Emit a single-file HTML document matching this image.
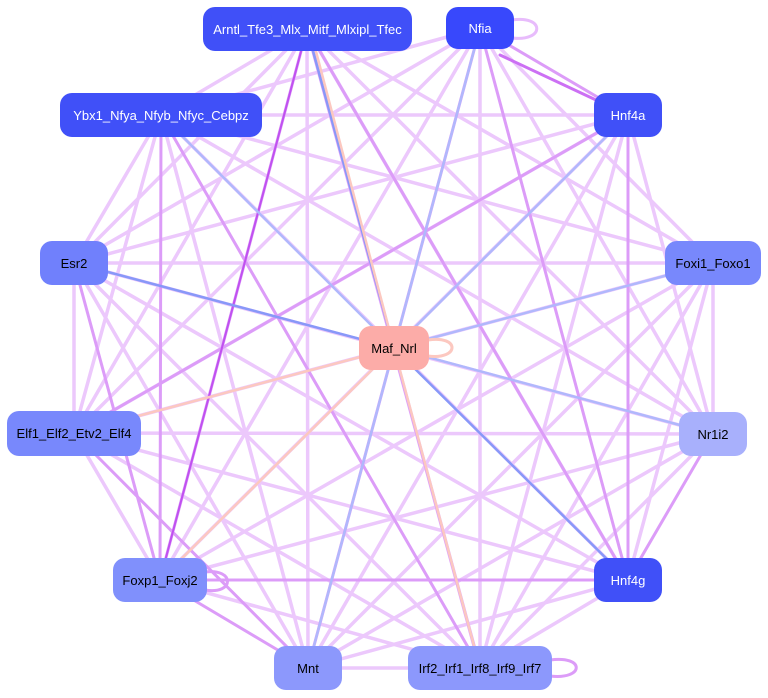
<!DOCTYPE html>
<html><head><style>
body{margin:0;background:#fff;width:768px;height:698px;overflow:hidden;font-family:"Liberation Sans",sans-serif}
.n{position:absolute;border-radius:12px;display:flex;align-items:center;justify-content:center;font-size:13px;color:#fff}
svg{position:absolute;left:0;top:0}
</style></head><body>
<svg width="768" height="698" stroke-linecap="round">
<g stroke="#ecc8fc" stroke-width="3.5" fill="none">
<line x1="307" y1="29" x2="161" y2="115"/><line x1="307" y1="29" x2="74" y2="263"/><line x1="307" y1="29" x2="713" y2="263"/>
<line x1="307" y1="29" x2="74" y2="433"/><line x1="307" y1="29" x2="713" y2="434"/><line x1="307" y1="29" x2="628" y2="580"/>
<line x1="307" y1="29" x2="308" y2="668"/><line x1="480" y1="28" x2="161" y2="115"/><line x1="480" y1="28" x2="74" y2="263"/>
<line x1="480" y1="28" x2="74" y2="433"/><line x1="480" y1="28" x2="160" y2="580"/><line x1="480" y1="28" x2="713" y2="434"/>
<line x1="480" y1="28" x2="713" y2="263"/><line x1="480" y1="28" x2="480" y2="668"/><line x1="161" y1="115" x2="628" y2="115"/>
<line x1="161" y1="115" x2="713" y2="263"/><line x1="161" y1="115" x2="74" y2="263"/><line x1="161" y1="115" x2="74" y2="433"/>
<line x1="161" y1="115" x2="308" y2="668"/><line x1="161" y1="115" x2="628" y2="580"/><line x1="161" y1="115" x2="713" y2="434"/>
<line x1="628" y1="115" x2="74" y2="263"/><line x1="628" y1="115" x2="74" y2="433"/><line x1="628" y1="115" x2="160" y2="580"/>
<line x1="628" y1="115" x2="308" y2="668"/><line x1="628" y1="115" x2="480" y2="668"/><line x1="628" y1="115" x2="713" y2="434"/>
<line x1="74" y1="263" x2="713" y2="263"/><line x1="74" y1="263" x2="74" y2="433"/><line x1="74" y1="263" x2="713" y2="434"/>
<line x1="74" y1="263" x2="480" y2="668"/><line x1="74" y1="263" x2="308" y2="668"/><line x1="74" y1="263" x2="628" y2="580"/>
<line x1="713" y1="263" x2="74" y2="433"/><line x1="713" y1="263" x2="160" y2="580"/><line x1="713" y1="263" x2="308" y2="668"/>
<line x1="713" y1="263" x2="480" y2="668"/><line x1="713" y1="263" x2="713" y2="434"/><line x1="713" y1="263" x2="628" y2="580"/>
<line x1="74" y1="433" x2="713" y2="434"/><line x1="74" y1="433" x2="160" y2="580"/><line x1="74" y1="433" x2="628" y2="580"/>
<line x1="74" y1="433" x2="480" y2="668"/><line x1="713" y1="434" x2="160" y2="580"/><line x1="713" y1="434" x2="308" y2="668"/>
<line x1="713" y1="434" x2="480" y2="668"/><line x1="160" y1="580" x2="480" y2="668"/><line x1="628" y1="580" x2="308" y2="668"/>
<line x1="628" y1="580" x2="480" y2="668"/><line x1="308" y1="668" x2="480" y2="668"/><line x1="307" y1="29" x2="480" y2="668"/>
</g>
<g stroke="#dc9cf8" stroke-width="3">
<line x1="307" y1="29" x2="160" y2="580"/><line x1="307" y1="29" x2="480" y2="668"/><line x1="307" y1="29" x2="628" y2="580"/>
<line x1="480" y1="28" x2="628" y2="115"/><line x1="480" y1="28" x2="628" y2="580"/><line x1="480" y1="28" x2="308" y2="668"/>
<line x1="161" y1="115" x2="160" y2="580"/><line x1="161" y1="115" x2="480" y2="668"/><line x1="628" y1="115" x2="628" y2="580"/>
<line x1="74" y1="263" x2="160" y2="580"/><line x1="713" y1="434" x2="628" y2="580"/><line x1="160" y1="580" x2="628" y2="580"/>
<line x1="160" y1="580" x2="308" y2="668"/><line x1="74" y1="433" x2="308" y2="668"/><line x1="628" y1="580" x2="160" y2="580"/>
<line x1="74" y1="433" x2="628" y2="115"/>
</g>
<line x1="307" y1="29" x2="160" y2="580" stroke="#c050f0" stroke-width="2"/>
<line x1="628" y1="115" x2="500" y2="55" stroke="#cc70f4" stroke-width="3"/>
<g stroke="#8898f8" stroke-width="2.5"><line x1="74" y1="263" x2="394" y2="348"/><line x1="628" y1="580" x2="394" y2="348"/><line x1="307" y1="29" x2="394" y2="348"/></g>
<g stroke="#b0b8fc" stroke-width="2.5"><line x1="480" y1="28" x2="394" y2="348"/><line x1="713" y1="434" x2="394" y2="348"/><line x1="308" y1="668" x2="394" y2="348"/><line x1="713" y1="263" x2="394" y2="348"/><line x1="628" y1="115" x2="394" y2="348"/><line x1="161" y1="115" x2="394" y2="348"/></g>
<g stroke="#fcc8c0" stroke-width="2.5"><line x1="394" y1="348" x2="74" y2="433"/><line x1="394" y1="348" x2="160" y2="580"/><line x1="394" y1="348" x2="480" y2="668"/><line x1="394" y1="348" x2="313" y2="40"/></g>
<path d="M512 20 C545 15 545 42 512 38" stroke="#e8bcfc" stroke-width="3" fill="none"/>
<path d="M550 660 C585 655 585 680 550 676" stroke="#dc9cf8" stroke-width="3" fill="none"/>
<path d="M205 572 C235 568 235 595 205 590" stroke="#dc9cf8" stroke-width="3" fill="none"/>
<path d="M428 340 C460 335 460 360 428 356" stroke="#fcc8c0" stroke-width="3" fill="none"/>
</svg>
<div class="n" style="left:203px;top:7px;width:209px;height:44px;background:#4050f8">Arntl_Tfe3_Mlx_Mitf_Mlxipl_Tfec</div>
<div class="n" style="left:446px;top:7px;width:68px;height:42px;background:#3848fc">Nfia</div>
<div class="n" style="left:60px;top:93px;width:202px;height:44px;background:#4050f8">Ybx1_Nfya_Nfyb_Nfyc_Cebpz</div>
<div class="n" style="left:594px;top:93px;width:68px;height:44px;background:#4050f8">Hnf4a</div>
<div class="n" style="left:40px;top:241px;width:68px;height:44px;background:#7080fc;color:#000">Esr2</div>
<div class="n" style="left:665px;top:241px;width:96px;height:44px;background:#7888fc;color:#000">Foxi1_Foxo1</div>
<div class="n" style="left:359px;top:326px;width:70px;height:44px;background:#fcaca8;color:#000">Maf_Nrl</div>
<div class="n" style="left:7px;top:411px;width:134px;height:45px;background:#7888fc;color:#000">Elf1_Elf2_Etv2_Elf4</div>
<div class="n" style="left:679px;top:412px;width:68px;height:44px;background:#a8b0fc;color:#000">Nr1i2</div>
<div class="n" style="left:113px;top:558px;width:94px;height:44px;background:#8090fc;color:#000">Foxp1_Foxj2</div>
<div class="n" style="left:594px;top:558px;width:68px;height:44px;background:#4050f8">Hnf4g</div>
<div class="n" style="left:274px;top:646px;width:68px;height:44px;background:#8c98fc;color:#000">Mnt</div>
<div class="n" style="left:408px;top:646px;width:144px;height:44px;background:#8c98fc;color:#000">Irf2_Irf1_Irf8_Irf9_Irf7</div>
</body></html>
